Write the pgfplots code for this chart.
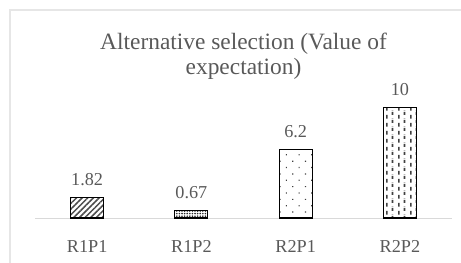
\documentclass[border=0pt]{standalone}
\usepackage{fontspec}
\setmainfont{Liberation Serif}
\usepackage{pgfplots}
\pgfplotsset{compat=1.18}
\usetikzlibrary{patterns,patterns.meta}
\definecolor{txt}{HTML}{595959}
\definecolor{axl}{HTML}{D9D9D9}
\definecolor{brd}{HTML}{E6E6E6}
\pgfdeclarepattern{
  name=vdashes,
  type=uncolored,
  bottom left={\pgfpoint{0bp}{0bp}},
  top right={\pgfpoint{12bp}{8bp}},
  tile size={\pgfpoint{12bp}{8bp}},
  code={
    \pgfsetlinewidth{1.7bp}
    \pgfpathmoveto{\pgfpoint{3bp}{0.5bp}}\pgfpathlineto{\pgfpoint{3bp}{4.5bp}}
    \pgfpathmoveto{\pgfpoint{9bp}{4.5bp}}\pgfpathlineto{\pgfpoint{9bp}{8bp}}
    \pgfpathmoveto{\pgfpoint{9bp}{0bp}}\pgfpathlineto{\pgfpoint{9bp}{0.5bp}}
    \pgfusepath{stroke}
  }
}
\begin{document}
\begin{tikzpicture}
\useasboundingbox (0,0) rectangle (461bp,263bp);
\draw[brd, line width=1.2bp] (10bp,0) -- (10bp,253bp) -- (461bp,253bp);
\node[txt, font=\fontsize{23.4bp}{25bp}\selectfont, anchor=base, inner sep=0] at (243.5bp,213bp) {Alternative selection (Value of};
\node[txt, font=\fontsize{23.4bp}{25bp}\selectfont, anchor=base, inner sep=0] at (243.5bp,188bp) {expectation)};
\begin{axis}[
  at={(35bp,45bp)}, anchor=south west,
  width=417bp, height=110.5bp, scale only axis,
  xmin=-0.5, xmax=3.5, ymin=0, ymax=10,
  clip=false,
  ybar, bar width=33bp, bar shift=0pt,
  axis x line*=bottom, axis y line=none,
  x axis line style={axl, line width=1bp},
  xtick={0,1,2,3},
  xticklabels={R1P1,R1P2,R2P1,R2P2},
  xtick style={draw=none},
  xticklabel style={txt, font=\fontsize{18.2bp}{20bp}\selectfont, anchor=base, yshift=-30bp, inner sep=0},
  /pgf/number format/assume math mode=true,
  nodes near coords,
  every node near coord/.append style={txt, font=\fontsize{18.2bp}{20bp}\selectfont, anchor=base, yshift=12bp, inner sep=0},
]
\addplot[draw=black, line width=1.2bp, pattern={Lines[angle=45,distance=4bp,line width=1.5bp]}, pattern color=black!70] coordinates {(0,1.82)};
\addplot[draw=black, line width=1.2bp, pattern={Dots[distance=2.6bp,radius=0.9bp]}, pattern color=black!85] coordinates {(1,0.67)};
\addplot[draw=black, line width=1.2bp, pattern={Dots[angle=45,distance=9bp,radius=0.85bp]}, pattern color=black!75] coordinates {(2,6.2)};
\addplot[draw=black, line width=1.2bp, pattern=vdashes, pattern color=black!75] coordinates {(3,10)};
\end{axis}
\end{tikzpicture}
\end{document}
